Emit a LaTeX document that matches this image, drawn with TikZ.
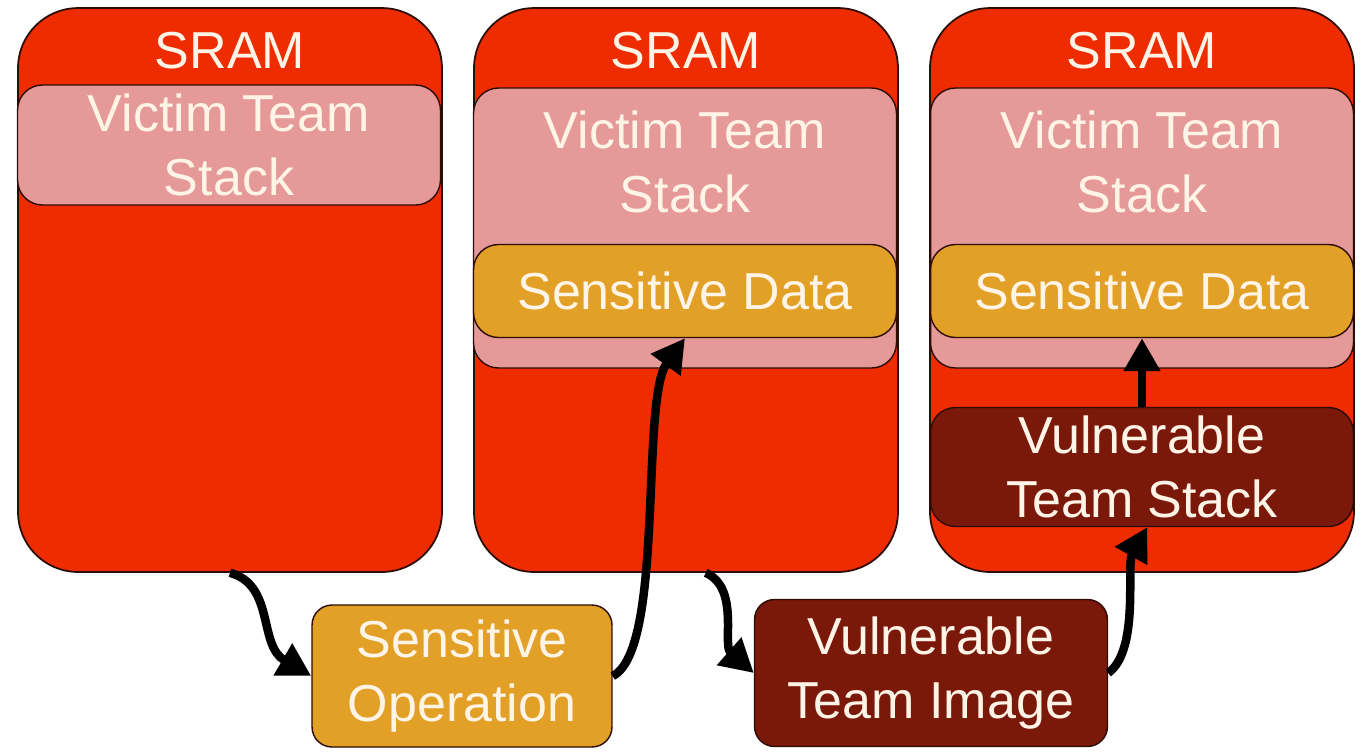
\documentclass[tikz,border=0pt]{standalone}
\usepackage{fontspec}
\setmainfont{Liberation Sans}
\usetikzlibrary{arrows.meta, positioning}
\definecolor{sramred}{RGB}{238,44,0}
\definecolor{stackpink}{RGB}{229,153,152}
\definecolor{datagold}{RGB}{226,160,38}
\definecolor{vulndark}{RGB}{122,24,10}
\definecolor{edgedark}{RGB}{45,12,6}
\definecolor{txtcream}{RGB}{255,244,230}
\tikzset{
  sram/.style={rectangle, draw=edgedark, fill=sramred,
    minimum width=8.48cm, minimum height=11.28cm,
    rounded corners=1.2cm, line width=1pt},
  bigtxt/.style={text=txtcream, font=\fontsize{29.6}{36}\selectfont,
    align=center, inner sep=0pt},
  region/.style={rectangle, draw=edgedark, minimum width=8.46cm,
    rounded corners=0.5cm, line width=0.8pt, bigtxt},
  stackbox/.style={region, fill=stackpink},
  databox/.style={region, fill=datagold, minimum height=1.86cm},
  vulnbox/.style={region, fill=vulndark, minimum height=2.38cm},
  stepnode/.style={rectangle, draw=edgedark, rounded corners=0.4cm,
    line width=0.8pt, bigtxt},
  arrow/.style={-{Triangle[length=0.66cm, width=0.7cm]},
    line width=0.17cm, color=black}
}

\begin{document}
\begin{tikzpicture}[x=0.02cm, y=-0.02cm]
  \useasboundingbox (0,0) rectangle (1363,752);

  % Three SRAM snapshots
  \node[sram] (sram1) at (230,290) {};
  \node[sram] (sram2) at (686,290) {};
  \node[sram] (sram3) at (1142,290) {};
  \node[bigtxt] (title1) at (230,51) {SRAM};
  \node[bigtxt] (title2) at (686,51) {SRAM};
  \node[bigtxt] (title3) at (1142,51) {SRAM};

  % First snapshot: only the victim stack
  \node[stackbox, minimum height=2.4cm] (stack1) at (229,145) {Victim Team\\Stack};

  % Second snapshot: stack holds sensitive data
  \node[stackbox, minimum height=5.6cm] (stack2) at (685,228) {};
  \node[bigtxt] (stacktxt2) at (685,162) {Victim Team\\Stack};
  \node[databox] (data2) at (685,291) {Sensitive Data};

  % Third snapshot: vulnerable stack below
  \node[stackbox, minimum height=5.6cm] (stack3) at (1142,228) {};
  \node[bigtxt] (stacktxt3) at (1142,162) {Victim Team\\Stack};
  \node[databox] (data3) at (1142,291) {Sensitive Data};
  \node[vulnbox] (vstack) at (1142,467) {Vulnerable\\Team Stack};

  % Steps between snapshots
  \node[stepnode, fill=datagold, minimum width=6cm, minimum height=2.84cm] (op) at (462,676) {Sensitive\\Operation};
  \node[stepnode, fill=vulndark, minimum width=7.06cm, minimum height=2.94cm] (image) at (931,673) {Vulnerable\\Team Image};

  % Arrows
  \draw[arrow] (sram1.south) .. controls (275,585) and (258,645) .. (op.west);
  \draw[arrow] (op.east) .. controls (665,650) and (640,400) .. (data2.south);
  \draw[arrow] (sram2.-86) .. controls (740,588) and (722,645) .. (image.west);
  \draw[arrow] (image.east) .. controls (1140,650) and (1126,565) .. (vstack.-85);
  \draw[arrow] (vstack.north) -- (data3.south);
\end{tikzpicture}
\end{document}
